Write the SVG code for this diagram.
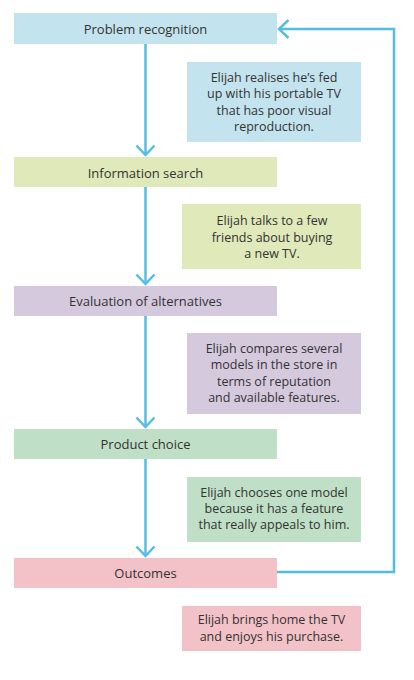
<svg xmlns="http://www.w3.org/2000/svg" width="414" height="680" viewBox="0 0 414 680">
<style>
  text { font-family: "Open Sans", "Noto Sans", "Liberation Sans", sans-serif; font-size: 12.5px; fill: #333333; text-anchor: middle; }
  .node { font-size: 13px; }
  .conn { fill: none; stroke: #55bde2; stroke-width: 2.5; }
  .blue { fill: #c3e3ee; }
  .lime { fill: #e0e9b9; }
  .purple { fill: #d5c9de; }
  .green { fill: #bfdfc7; }
  .pink { fill: #f2c2c8; }
</style>
<defs>
  <marker id="arr" markerUnits="userSpaceOnUse" viewBox="-12 -12 14 24" markerWidth="14" markerHeight="24" refX="0" refY="0" orient="auto">
    <path d="M-9.5,-9 L0,0 L-9.5,9" fill="none" stroke="#55bde2" stroke-width="2.5"/>
  </marker>
</defs>
<rect width="414" height="680" fill="#ffffff"/>
<g id="connectors">
  <path class="conn" d="M145.5,44 V155" marker-end="url(#arr)"/>
  <path class="conn" d="M145.5,187 V284" marker-end="url(#arr)"/>
  <path class="conn" d="M145.5,316 V427" marker-end="url(#arr)"/>
  <path class="conn" d="M145.5,459 V556" marker-end="url(#arr)"/>
  <path class="conn" d="M277,572 H394 V29 H279" marker-end="url(#arr)"/>
</g>
<g id="problem-recognition">
  <rect class="blue" x="14" y="13" width="263" height="31"/>
  <text class="node" x="145.5" y="33.5">Problem recognition</text>
</g>
<g id="note-problem">
  <rect class="blue" x="187" y="62" width="174" height="80"/>
  <text x="274" y="82.2">Elijah realises he’s fed</text>
  <text x="274" y="98.4">up with his portable TV</text>
  <text x="274" y="114.6">that has poor visual</text>
  <text x="274" y="130.8">reproduction.</text>
</g>
<g id="information-search">
  <rect class="lime" x="14" y="157" width="263" height="30"/>
  <text class="node" x="145.5" y="177.5">Information search</text>
</g>
<g id="note-information">
  <rect class="lime" x="182" y="204" width="179" height="65"/>
  <text x="272" y="225.3">Elijah talks to a few</text>
  <text x="272" y="241.5">friends about buying</text>
  <text x="272" y="257.7">a new TV.</text>
</g>
<g id="evaluation">
  <rect class="purple" x="14" y="286" width="263" height="30"/>
  <text class="node" x="145.5" y="305.5">Evaluation of alternatives</text>
</g>
<g id="note-evaluation">
  <rect class="purple" x="187" y="333" width="174" height="81"/>
  <text x="274" y="353.2">Elijah compares several</text>
  <text x="274" y="369.4">models in the store in</text>
  <text x="274" y="385.6">terms of reputation</text>
  <text x="274" y="401.8">and available features.</text>
</g>
<g id="product-choice">
  <rect class="green" x="14" y="429" width="263" height="30"/>
  <text class="node" x="145.5" y="448.5">Product choice</text>
</g>
<g id="note-product">
  <rect class="green" x="187" y="477" width="174" height="65"/>
  <text x="274" y="496.8">Elijah chooses one model</text>
  <text x="274" y="513">because it has a feature</text>
  <text x="274" y="529.2">that really appeals to him.</text>
</g>
<g id="outcomes">
  <rect class="pink" x="14" y="558" width="263" height="30"/>
  <text class="node" x="145.5" y="577.5">Outcomes</text>
</g>
<g id="note-outcomes">
  <rect class="pink" x="182" y="606" width="179" height="45"/>
  <text x="271.5" y="624.4">Elijah brings home the TV</text>
  <text x="271.5" y="640.6">and enjoys his purchase.</text>
</g>
</svg>
